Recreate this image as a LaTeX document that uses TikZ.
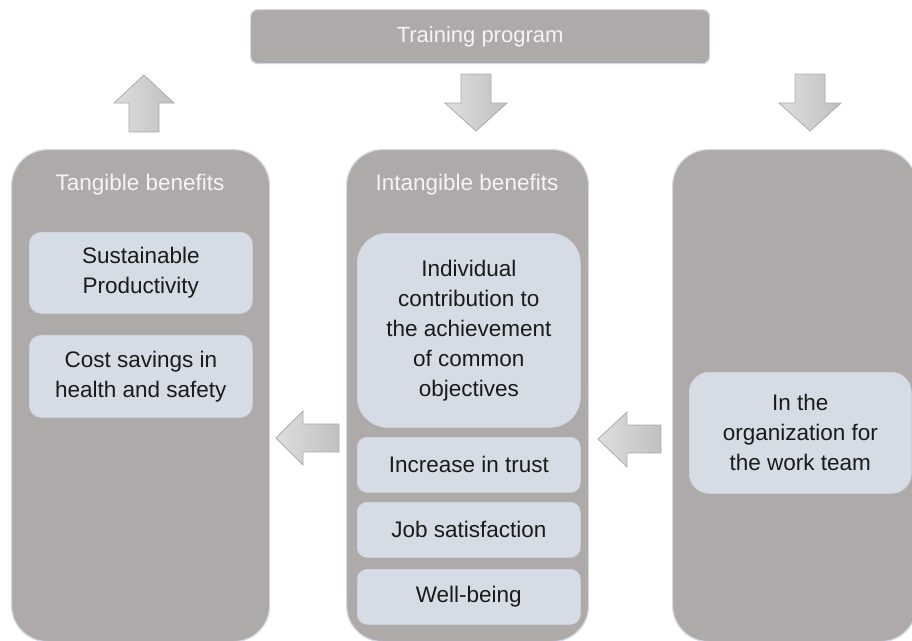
\documentclass[tikz,border=0pt]{standalone}
\usepackage{fontspec}
\setmainfont{Liberation Sans}
\definecolor{colgray}{HTML}{AEAAA9}
\definecolor{boxblue}{HTML}{D6DCE5}
\definecolor{edgec}{HTML}{D3D9E2}
\definecolor{titlec}{HTML}{F4F4F4}
\definecolor{txt}{HTML}{1A1A1A}
\definecolor{arrowL}{HTML}{DEDEDE}
\definecolor{arrowR}{HTML}{C0C0C0}
\definecolor{arrowedge}{HTML}{ABABAB}
\begin{document}
\begin{tikzpicture}[x=1pt,y=-1pt,
  col/.style={draw=edgec, line width=1.2pt, fill=colgray, rounded corners=36pt, anchor=north west, inner sep=0pt},
  inbox/.style={fill=boxblue, draw=edgec, line width=0.6pt, text=txt, align=center, anchor=north west, inner sep=0pt,
    font=\fontsize{22.5}{30}\selectfont},
  ttl/.style={text=titlec, font=\fontsize{22.5}{27}\selectfont},
  barrow/.style={draw=arrowedge, line width=0.8pt, left color=arrowL, right color=arrowR}
]
\useasboundingbox (0,0) rectangle (912,640);

% training program
\node[col, rounded corners=7pt, minimum width=459pt, minimum height=54pt, text=titlec,
  font=\fontsize{22}{27}\selectfont] (train) at (250,9) {Training program};

% columns
\node[col, minimum width=258pt, minimum height=492pt] (tang) at (11,149) {};
\node[col, minimum width=242pt, minimum height=492pt] (intang) at (346,149) {};
\node[col, minimum width=244pt, minimum height=492pt] (right) at (672,149) {};

% titles
\node[ttl] (tangt) at (140,185) {Tangible benefits};
\node[ttl] (intangt) at (467,185) {Intangible benefits};

% inner boxes
\node[inbox, rounded corners=12pt, minimum width=223pt, minimum height=81pt] (sust) at (29,232) {Sustainable\\Productivity};
\node[inbox, rounded corners=12pt, minimum width=223pt, minimum height=82pt] (cost) at (29,335) {Cost savings in\\health and safety};
\node[inbox, rounded corners=30pt, minimum width=223pt, minimum height=194pt] (indiv) at (357,233) {Individual\\contribution to\\the achievement\\of common\\objectives};
\node[inbox, rounded corners=10pt, minimum width=223pt, minimum height=55pt] (trust) at (357,437) {Increase in trust};
\node[inbox, rounded corners=10pt, minimum width=223pt, minimum height=55pt] (job) at (357,502) {Job satisfaction};
\node[inbox, rounded corners=10pt, minimum width=223pt, minimum height=55pt] (well) at (357,569) {Well-being};
\node[inbox, rounded corners=20pt, minimum width=222pt, minimum height=121pt] (org) at (689,372) {In the\\organization for\\the work team};

% block arrows
\draw[barrow] (129,132) -- (129,103) -- (114,103) -- (144,75) -- (174,103) -- (159,103) -- (159,132) -- cycle;
\draw[barrow] (461,74) -- (491,74) -- (491,103) -- (507,103) -- (476,131) -- (445,103) -- (461,103) -- cycle;
\draw[barrow] (795,74) -- (825,74) -- (825,103) -- (841,103) -- (810,131) -- (779,103) -- (795,103) -- cycle;
\draw[barrow] (339,424) -- (303,424) -- (303,411) -- (276,438) -- (303,465) -- (303,452) -- (339,452) -- cycle;
\draw[barrow] (661,425) -- (627,425) -- (627,412) -- (598,439) -- (627,467) -- (627,453) -- (661,453) -- cycle;
\end{tikzpicture}
\end{document}
